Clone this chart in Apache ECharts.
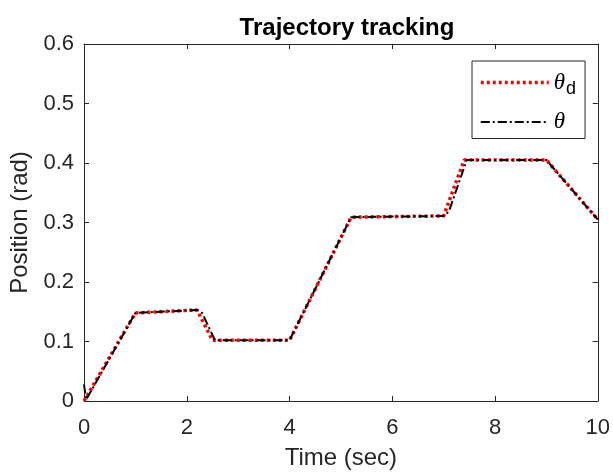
<!DOCTYPE html>
<html><head><meta charset="utf-8">
<script src="https://cdn.jsdelivr.net/npm/echarts@6/dist/echarts.min.js"></script>
<style>html,body{margin:0;padding:0;background:#fff}#c{width:613px;height:475px}</style>
</head><body><div id="c"></div>
<script>
// Desired trajectory theta_d
var timeD = [0, 1, 2.2, 2.5, 4, 5.2, 7, 7.4, 9, 10];
var posD  = [0, 0.148, 0.153, 0.102, 0.102, 0.309, 0.311, 0.405, 0.405, 0.305];
// Actual trajectory theta
var timeA = [0, 0.04, 1, 2.2, 2.3, 2.55, 4, 5.2, 7, 7.1, 7.45, 9, 10];
var posA  = [0.028, 0.002, 0.148, 0.153, 0.148, 0.102, 0.102, 0.309, 0.311, 0.318, 0.405, 0.405, 0.305];
var xTicks = [0, 2, 4, 6, 8, 10];
var yTicks = [0, 0.1, 0.2, 0.3, 0.4, 0.5, 0.6];

function pairs(t, v) { return t.map(function (x, i) { return [x, v[i]]; }); }

var FONT = '"Liberation Sans", Arial, sans-serif';
var AX = '#262626';
var chart = echarts.init(document.getElementById('c'), null, {renderer: 'canvas'});
var tickCommon = {show: true, inside: true, length: 5, lineStyle: {color: AX, width: 1}};
chart.setOption({
  animation: false,
  backgroundColor: '#fff',
  title: {text: 'Trajectory tracking', left: 342, top: 11, textAlign: 'center',
    textStyle: {fontFamily: FONT, fontSize: 24, fontWeight: 'bold', color: '#000'}},
  grid: {left: 84, right: 12, top: 44, bottom: 72, containLabel: false},
  legend: {
    left: 472, top: 61, orient: 'vertical', itemWidth: 68, itemHeight: 24, itemGap: 12,
    borderColor: AX, borderWidth: 1, padding: [10, 9, 5, 7], backgroundColor: '#fff',
    itemStyle: {opacity: 0},
    lineStyle: {width: 'inherit'},
    data: ['thetad', 'theta'],
    formatter: function (n) { return n === 'thetad' ? '{t|θ}{s|d}' : '{t|θ}'; },
    textStyle: {fontFamily: FONT, color: '#000',
      rich: {t: {fontSize: 23, fontStyle: 'italic', fontFamily: '"Liberation Serif", serif', color: '#000'},
             s: {fontSize: 18, fontFamily: FONT, color: '#000', verticalAlign: 'bottom', padding: [14, 0, 0, 1]}}}
  },
  xAxis: [{
    type: 'value', min: 0, max: 10, interval: 2, position: 'bottom',
    name: 'Time (sec)', nameLocation: 'middle', nameGap: 45,
    nameTextStyle: {fontFamily: FONT, fontSize: 24, color: '#262626'},
    axisLine: {show: true, onZero: false, lineStyle: {color: AX, width: 1}},
    axisTick: tickCommon, splitLine: {show: false},
    axisLabel: {fontFamily: FONT, fontSize: 22, color: '#262626', margin: 16}
  }, {
    type: 'value', min: 0, max: 10, interval: 2, position: 'top',
    axisLine: {show: true, onZero: false, lineStyle: {color: AX, width: 1}},
    axisTick: tickCommon, splitLine: {show: false}, axisLabel: {show: false}
  }],
  yAxis: [{
    type: 'value', min: 0, max: 0.6, interval: 0.1, position: 'left',
    name: 'Position (rad)', nameLocation: 'middle', nameGap: 49, nameRotate: 90,
    nameTextStyle: {fontFamily: FONT, fontSize: 24, color: '#262626'},
    axisLine: {show: true, onZero: false, lineStyle: {color: AX, width: 1}},
    axisTick: tickCommon, splitLine: {show: false},
    axisLabel: {fontFamily: FONT, fontSize: 22, color: '#262626', margin: 10,
      formatter: function (v) { return v === 0 ? '0' : v.toFixed(1); }}
  }, {
    type: 'value', min: 0, max: 0.6, interval: 0.1, position: 'right',
    axisLine: {show: true, onZero: false, lineStyle: {color: AX, width: 1}},
    axisTick: tickCommon, splitLine: {show: false}, axisLabel: {show: false}
  }],
  series: [{
    name: 'thetad', type: 'line', data: pairs(timeD, posD), showSymbol: false, symbol: 'none',
    color: '#ff0000',
    lineStyle: {color: '#ff0000', width: 3.5, type: [3, 3]}
  }, {
    name: 'theta', type: 'line', data: pairs(timeA, posA), showSymbol: false, symbol: 'none',
    color: '#000000',
    lineStyle: {color: '#000000', width: 2, type: [9, 3, 2, 3]}
  }]
});
</script></body></html>
